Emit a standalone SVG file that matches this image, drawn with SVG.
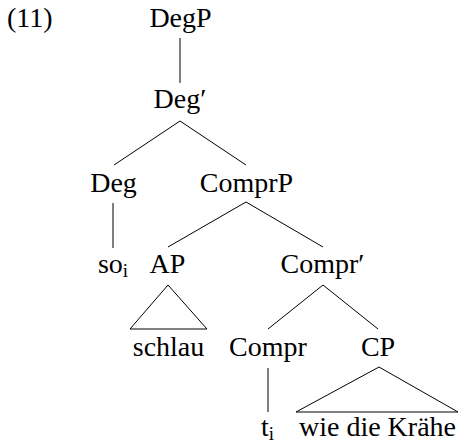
<svg xmlns="http://www.w3.org/2000/svg" width="459" height="444" viewBox="0 0 459 444">
<style>
text{font-family:'Liberation Serif','Times New Roman','DejaVu Serif',serif;font-size:28px;fill:#000;text-anchor:middle}
.sub{font-size:19px}
.lbl{text-anchor:start}
.edges line,.edges polygon{stroke:#000;stroke-width:1;fill:none}
</style>
<rect width="459" height="444" fill="#fff"/>
<g font-family="Liberation Serif, Times New Roman, DejaVu Serif, serif">
<text class="lbl" x="7" y="27">(11)</text>
<g class="edges" id="connectors">
<line x1="180" y1="38" x2="180" y2="83"/>
<line x1="180" y1="121" x2="114" y2="165"/>
<line x1="180" y1="121" x2="246" y2="165"/>
<line x1="113" y1="203" x2="113" y2="248"/>
<line x1="246" y1="202" x2="168" y2="247"/>
<line x1="246" y1="202" x2="323" y2="247"/>
<polygon points="168,285 130,329 207,329"/>
<line x1="323" y1="285" x2="268" y2="329"/>
<line x1="323" y1="285" x2="378" y2="329"/>
<line x1="268" y1="368" x2="268" y2="412"/>
<polygon points="379,367 296,412 458,412"/>
</g>
<g id="n-DegP"><text x="180.5" y="27">DegP</text></g>
<g id="n-Degbar"><text x="180" y="108">Deg′</text></g>
<g id="n-Deg"><text x="113.5" y="192">Deg</text></g>
<g id="n-ComprP"><text x="246.5" y="192">ComprP</text></g>
<g id="n-so"><text x="113" y="273">so<tspan class="sub" dy="4">i</tspan></text></g>
<g id="n-AP"><text x="167.5" y="273">AP</text></g>
<g id="n-Comprbar"><text x="322.5" y="273">Compr′</text></g>
<g id="n-schlau"><text x="168.5" y="356">schlau</text></g>
<g id="n-Compr"><text x="268" y="356">Compr</text></g>
<g id="n-CP"><text x="378" y="356">CP</text></g>
<g id="n-t"><text x="267.5" y="436">t<tspan class="sub" dy="4">i</tspan></text></g>
<g id="n-wie"><text x="377.5" y="436">wie die Krähe</text></g>
</g>
</svg>
